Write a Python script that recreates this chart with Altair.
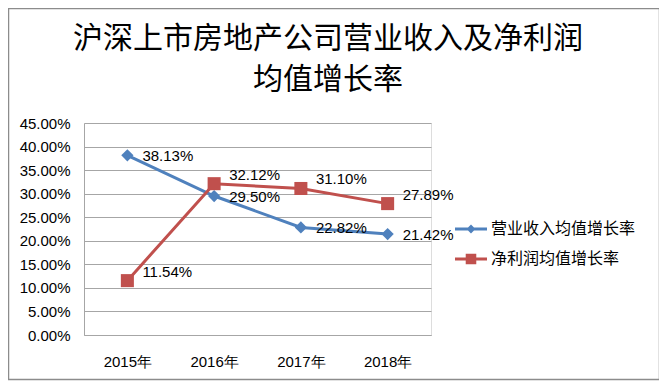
import altair as alt
import pandas as pd

years = ["2015年", "2016年", "2017年", "2018年"]
series_names = ["营业收入均值增长率", "净利润均值增长率"]
revenue_growth = [38.13, 29.50, 22.82, 21.42]
profit_growth = [11.54, 32.12, 31.10, 27.89]
y_ticks = [0, 0.05, 0.10, 0.15, 0.20, 0.25, 0.30, 0.35, 0.40, 0.45]
title_lines = ["沪深上市房地产公司营业收入及净利润", "均值增长率"]

rows = []
for name, vals in zip(series_names, [revenue_growth, profit_growth]):
    for yr, v in zip(years, vals):
        rows.append({"年份": yr, "系列": name, "值": v / 100.0})
df = pd.DataFrame(rows)

BLUE = "#4F81BD"
RED = "#C0504D"
W, H = 347, 212
LBL_FONT = "Liberation Sans"
CJK = "Noto Sans CJK SC"

x_enc = alt.X("年份:N", sort=years,
              scale=alt.Scale(type="point", padding=0.5),
              axis=alt.Axis(title=None, labelAngle=0, ticks=False, grid=False,
                            domainColor="#a6a6a6", labelFontSize=15,
                            labelFont=LBL_FONT, labelColor="#000000",
                            labelPadding=19))
y_enc = alt.Y("值:Q", scale=alt.Scale(domain=[0, 0.45], nice=False, zero=True),
              axis=alt.Axis(title=None, values=y_ticks, format=".2%", ticks=False,
                            domainColor="#a6a6a6", gridColor="#a6a6a6",
                            labelFontSize=15, labelFont=LBL_FONT,
                            labelColor="#000000", labelPadding=14))
color_scale = alt.Scale(domain=series_names, range=[BLUE, RED])

base = alt.Chart(df)

frame = alt.Chart(alt.Data(values=[{"a": 1}])).mark_rect(
    fill="transparent", stroke="#8c8c8c", strokeWidth=1.5
).encode(x=alt.value(-75.5), x2=alt.value(575.5),
         y=alt.value(-114.5), y2=alt.value(256.5))

title1 = alt.Chart(alt.Data(values=[{"t": title_lines[0]}])).mark_text(
    fontSize=30, font=CJK, color="#000000", align="center", baseline="middle"
).encode(text="t:N", x=alt.value(244), y=alt.value(-84.5))
title2 = alt.Chart(alt.Data(values=[{"t": title_lines[1]}])).mark_text(
    fontSize=30, font=CJK, color="#000000", align="center", baseline="middle"
).encode(text="t:N", x=alt.value(244), y=alt.value(-43.5))


def series_layers(name, col, shape, size, dy):
    sub = base.transform_filter(alt.datum["系列"] == name)
    ln = sub.mark_line(strokeWidth=3, color=col).encode(x=x_enc, y=y_enc)
    pt = sub.mark_point(filled=True, shape=shape, size=size, opacity=1,
                        color=col).encode(x=x_enc, y=y_enc)
    tx = sub.mark_text(align="left", baseline="middle", dx=15, dy=dy,
                       fontSize=15, font=LBL_FONT, color="#000000").encode(
        x=x_enc, y=y_enc, text=alt.Text("值:Q", format=".2%"))
    return [ln, pt, tx]


rev_layers = series_layers(series_names[0], BLUE, "diamond", 150, 1)
pro_layers = series_layers(series_names[1], RED, "square", 170, -9)

path_rev = ("M-1,-0.1H1V0.1H-1Z "
            "M0,-0.28L0.28,0L0,0.28L-0.28,0Z")
path_pro = ("M-1,-0.1H1V0.1H-1Z "
            "M-0.33,-0.33H0.33V0.33H-0.33Z")

leg = alt.Legend(title=None, orient="none", legendX=371, legendY=90,
                 symbolSize=1024, padding=0, rowPadding=6, labelFontSize=16,
                 labelFont=CJK, labelColor="#000000", labelOffset=4,
                 symbolStrokeWidth=0, symbolOpacity=1)

legend_layer = base.transform_filter("false").mark_point(filled=True).encode(
    x=x_enc, y=y_enc,
    color=alt.Color("系列:N", scale=color_scale, legend=leg),
    shape=alt.Shape("系列:N", scale=alt.Scale(domain=series_names,
                                            range=[path_rev, path_pro]),
                    legend=leg))

chart = alt.layer(frame, title1, title2, *rev_layers, *pro_layers,
                  legend_layer).properties(
    width=W, height=H,
    autosize=alt.AutoSizeParams(type="none"),
    padding={"left": 76, "top": 115, "right": 228, "bottom": 46},
).configure_view(stroke=None).configure(background="white")

chart.save("out.html", embed_options={"renderer": "svg", "actions": False})
